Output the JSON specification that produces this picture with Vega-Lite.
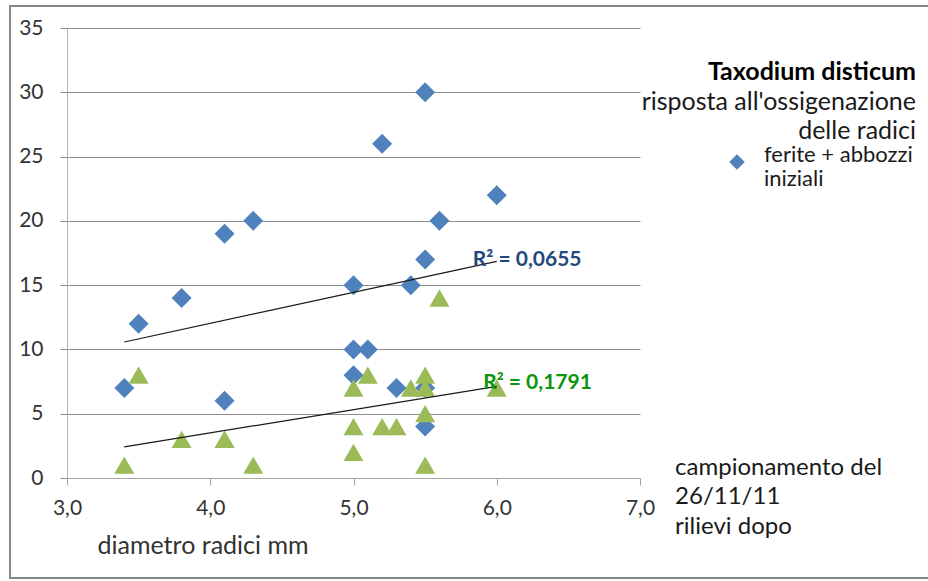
{
  "$schema": "https://vega.github.io/schema/vega-lite/v6.json",
  "width": 573,
  "height": 450,
  "autosize": "none",
  "padding": {"left": 67, "top": 28, "right": 288, "bottom": 103},
  "background": "white",
  "config": {"view": {"stroke": null}, "font": "Lato"},
  "title": {
    "text": "Taxodium disticum",
    "subtitle": ["risposta all'ossigenazione", "delle radici"],
    "anchor": "end",
    "align": "right",
    "frame": "group",
    "orient": "top",
    "offset": 0,
    "dx": 276,
    "dy": 139,
    "font": "Lato",
    "fontSize": 25,
    "fontWeight": "bold",
    "color": "#000000",
    "subtitleFont": "Lato",
    "subtitleFontSize": 25,
    "subtitleColor": "#1a1a1a",
    "subtitleLineHeight": 29.5,
    "subtitlePadding": 5
  },
  "data": {
    "values": [
      {"serie": "ferite + abbozzi iniziali", "diametro": 3.4, "valore": 7},
      {"serie": "ferite + abbozzi iniziali", "diametro": 3.5, "valore": 12},
      {"serie": "ferite + abbozzi iniziali", "diametro": 3.8, "valore": 14},
      {"serie": "ferite + abbozzi iniziali", "diametro": 4.1, "valore": 19},
      {"serie": "ferite + abbozzi iniziali", "diametro": 4.1, "valore": 6},
      {"serie": "ferite + abbozzi iniziali", "diametro": 4.3, "valore": 20},
      {"serie": "ferite + abbozzi iniziali", "diametro": 5.0, "valore": 15},
      {"serie": "ferite + abbozzi iniziali", "diametro": 5.0, "valore": 10},
      {"serie": "ferite + abbozzi iniziali", "diametro": 5.0, "valore": 8},
      {"serie": "ferite + abbozzi iniziali", "diametro": 5.1, "valore": 10},
      {"serie": "ferite + abbozzi iniziali", "diametro": 5.2, "valore": 26},
      {"serie": "ferite + abbozzi iniziali", "diametro": 5.3, "valore": 7},
      {"serie": "ferite + abbozzi iniziali", "diametro": 5.4, "valore": 15},
      {"serie": "ferite + abbozzi iniziali", "diametro": 5.5, "valore": 30},
      {"serie": "ferite + abbozzi iniziali", "diametro": 5.5, "valore": 17},
      {"serie": "ferite + abbozzi iniziali", "diametro": 5.5, "valore": 7},
      {"serie": "ferite + abbozzi iniziali", "diametro": 5.5, "valore": 4},
      {"serie": "ferite + abbozzi iniziali", "diametro": 5.6, "valore": 20},
      {"serie": "ferite + abbozzi iniziali", "diametro": 6.0, "valore": 22},
      {"serie": "rilievi dopo", "diametro": 3.4, "valore": 1},
      {"serie": "rilievi dopo", "diametro": 3.5, "valore": 8},
      {"serie": "rilievi dopo", "diametro": 3.8, "valore": 3},
      {"serie": "rilievi dopo", "diametro": 4.1, "valore": 3},
      {"serie": "rilievi dopo", "diametro": 4.1, "valore": 3},
      {"serie": "rilievi dopo", "diametro": 4.3, "valore": 1},
      {"serie": "rilievi dopo", "diametro": 5.0, "valore": 7},
      {"serie": "rilievi dopo", "diametro": 5.0, "valore": 4},
      {"serie": "rilievi dopo", "diametro": 5.0, "valore": 2},
      {"serie": "rilievi dopo", "diametro": 5.1, "valore": 8},
      {"serie": "rilievi dopo", "diametro": 5.2, "valore": 4},
      {"serie": "rilievi dopo", "diametro": 5.3, "valore": 4},
      {"serie": "rilievi dopo", "diametro": 5.4, "valore": 7},
      {"serie": "rilievi dopo", "diametro": 5.5, "valore": 8},
      {"serie": "rilievi dopo", "diametro": 5.5, "valore": 7},
      {"serie": "rilievi dopo", "diametro": 5.5, "valore": 5},
      {"serie": "rilievi dopo", "diametro": 5.5, "valore": 1},
      {"serie": "rilievi dopo", "diametro": 5.6, "valore": 14},
      {"serie": "rilievi dopo", "diametro": 6.0, "valore": 7}
    ]
  },
  "layer": [
    {
      "mark": {"type": "point", "filled": true, "size": 400, "opacity": 1, "strokeWidth": 0},
      "encoding": {
        "x": {
          "field": "diametro",
          "type": "quantitative",
          "scale": {"domain": [3, 7], "nice": false, "zero": false},
          "axis": {
            "values": [3, 4, 5, 6, 7],
            "labelExpr": "replace(format(datum.value, '.1f'), '.', ',')",
            "labelFlush": false,
            "grid": false,
            "domainColor": "#a6a6a6",
            "tickColor": "#a6a6a6",
            "tickSize": 7,
            "labelPadding": 12,
            "labelFontSize": 21,
            "labelColor": "#333333",
            "labelFont": "Lato",
            "title": "diametro radici mm",
            "titleFont": "Lato",
            "titleFontSize": 25,
            "titleFontWeight": "normal",
            "titleColor": "#333333",
            "titleAnchor": "start",
            "titleAlign": "left",
            "titleBaseline": "alphabetic",
            "titleX": 30,
            "titleY": 75
          }
        },
        "y": {
          "field": "valore",
          "type": "quantitative",
          "scale": {"domain": [0, 35], "nice": false, "zero": false},
          "axis": {
            "values": [0, 5, 10, 15, 20, 25, 30, 35],
            "grid": true,
            "gridColor": "#8c8c8c",
            "domainColor": "#b3b3b3",
            "tickColor": "#8c8c8c",
            "tickSize": 7,
            "labelPadding": 17,
            "labelFontSize": 21,
            "labelColor": "#333333",
            "labelFont": "Lato",
            "title": null
          }
        },
        "color": {
          "field": "serie",
          "type": "nominal",
          "scale": {"domain": ["ferite + abbozzi iniziali", "rilievi dopo"], "range": ["#4F81BD", "#9BBB59"]},
          "legend": {
            "values": ["ferite + abbozzi iniziali"],
            "orient": "none",
            "legendX": 659,
            "legendY": 123,
            "title": null,
            "padding": 0,
            "symbolSize": 240,
            "symbolStrokeWidth": 0,
            "labelFont": "Lato",
            "labelFontSize": 22,
            "labelColor": "#1a1a1a",
            "labelOffset": 16,
            "labelLimit": 300,
            "labelBaseline": "alphabetic",
            "labelExpr": "datum.label == 'ferite + abbozzi iniziali' ? ['ferite + abbozzi', 'iniziali'] : datum.label"
          }
        },
        "shape": {
          "field": "serie",
          "type": "nominal",
          "scale": {"domain": ["ferite + abbozzi iniziali", "rilievi dopo"], "range": ["diamond", "triangle-up"]},
          "legend": null
        }
      }
    },
    {
      "data": {"values": [{}]},
      "mark": {"type": "rect", "fillOpacity": 0, "stroke": "#868686", "strokeWidth": 2},
      "encoding": {
        "x": {"datum": 2.602, "type": "quantitative"},
        "x2": {"datum": 9.03},
        "y": {"datum": 36.71, "type": "quantitative"},
        "y2": {"datum": -7.78}
      }
    },
    {
      "transform": [
        {"regression": "valore", "on": "diametro", "groupby": ["serie"], "extent": [3.4, 6.0]}
      ],
      "mark": {"type": "line", "color": "#1a1a1a", "strokeWidth": 1.2},
      "encoding": {
        "x": {"field": "diametro", "type": "quantitative"},
        "y": {"field": "valore", "type": "quantitative"},
        "detail": {"field": "serie", "type": "nominal"}
      }
    },
    {
      "data": {"values": [{}]},
      "mark": {"type": "text", "align": "left", "baseline": "middle", "font": "Lato", "fontSize": 21, "fontWeight": "bold", "color": "#1F497D"},
      "encoding": {
        "x": {"datum": 5.833, "type": "quantitative"},
        "y": {"datum": 16.95, "type": "quantitative"},
        "text": {"value": "R² = 0,0655"}
      }
    },
    {
      "data": {"values": [{}]},
      "mark": {"type": "text", "align": "left", "baseline": "middle", "font": "Lato", "fontSize": 21, "fontWeight": "bold", "color": "#0B950B"},
      "encoding": {
        "x": {"datum": 5.905, "type": "quantitative"},
        "y": {"datum": 7.4, "type": "quantitative"},
        "text": {"value": "R² = 0,1791"}
      }
    },
    {
      "data": {"values": [{}]},
      "mark": {"type": "text", "align": "left", "baseline": "top", "font": "Lato", "fontSize": 24, "lineHeight": 29.5, "color": "#1a1a1a"},
      "encoding": {
        "x": {"datum": 7.245, "type": "quantitative"},
        "y": {"datum": 1.73, "type": "quantitative"},
        "text": {"value": ["campionamento del", "26/11/11", "rilievi dopo"]}
      }
    }
  ]
}
